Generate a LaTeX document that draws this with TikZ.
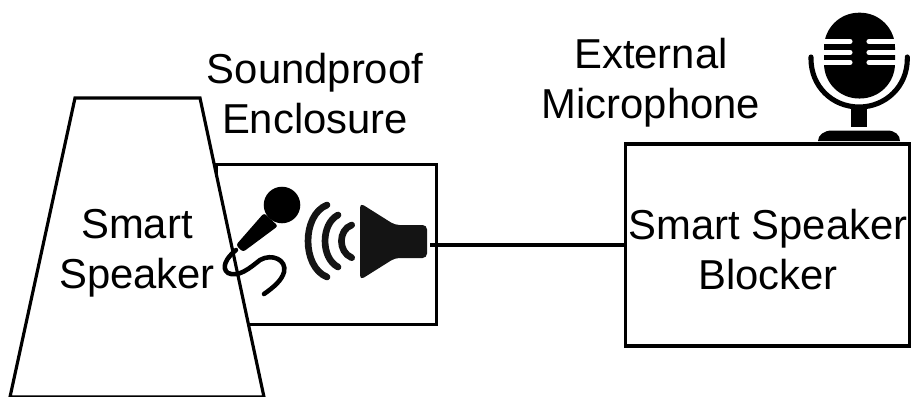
\documentclass[tikz,border=0pt]{standalone}
\usepackage{fontspec}
\setmainfont{Liberation Sans}
\usepackage{tikz}
\usetikzlibrary{arrows}

\tikzset{
  boxnode/.style={draw,line width=1.8pt,fill=white,inner sep=0pt},
  textnode/.style={align=center,inner sep=0pt,font=\fontsize{23.8}{28.5}\selectfont},
  iconfill/.style={fill=black!92,rounded corners=2.5pt},
  iconline/.style={draw=black!92,line width=3.8pt,line cap=round},
  slotline/.style={draw=white,line width=2.9pt,line cap=round}
}

\begin{document}
\begin{tikzpicture}[x=0.02cm,y=-0.02cm,line join=miter]
\useasboundingbox (0,0) rectangle (912,396);

\node[boxnode,minimum width=125pt,minimum height=91.5pt] (enclosure) at (326.5,244.5) {};
\node[boxnode,minimum width=162pt,minimum height=115pt] (blocker) at (767.5,245) {};
\coordinate (speakerout) at (430,245);
\draw[line width=1.8pt] (speakerout)--(blocker.west);

\draw[line width=1.8pt,fill=white] (75,98)--(200,98)--(264,397)--(10,397)--cycle;

\node[textnode] (speakerlabel) at (137,253) {Smart\\Speaker};
\node[textnode] (blockerlabel) at (768,250) {Smart Speaker\\Blocker};
\node[textnode] (enclosurelabel) at (315,94) {Soundproof\\Enclosure};
\node[textnode] (externallabel) at (651,83) {External\\Microphone};

\fill (282,205) circle (10.4pt);
\fill[rounded corners=1.5pt] (264,213)--(278,226)--(243,252)--(236,245)--cycle;
\draw[line width=2.6pt,line cap=round] (236,250) .. controls (226,258) and (221,268) .. (228,273)
  .. controls (238,278) and (250,268) .. (260,260) .. controls (272,253) and (287,260) .. (284,272)
  .. controls (282,280) and (274,287) .. (264,294);

\fill[iconfill] (360,203)--(395,225)--(427,225)--(427,258)--(395,258)--(360,280)--cycle;
\draw[iconline] (327,205) .. controls (301.7,215) and (301.7,267) .. (327,277);
\draw[iconline] (338,215) .. controls (320.7,224) and (320.7,258) .. (338,267);
\draw[iconline] (351.7,225) .. controls (338,230) and (338,252) .. (351.7,257.7);

\fill[rounded corners=19.9pt] (824,12.7) rectangle (895,98.5);
\foreach \y in {41.5,52.5,62.5} {
  \draw[slotline] (820,\y)--(850,\y);
  \draw[slotline] (869,\y)--(899,\y);
}
\draw[line width=2.9pt,line cap=round] (811,57) -- (811,59) .. controls (811,86) and (832,107) .. (859,107)
  .. controls (886,107) and (907.3,86) .. (907.3,59) -- (907.3,57);
\fill (850.7,105) rectangle (867.3,127);
\fill (818,141) .. controls (818,135) and (824,130.5) .. (832,130.5) -- (887,130.5)
  .. controls (895,130.5) and (900,135) .. (900,141) --cycle;

\end{tikzpicture}
\end{document}
